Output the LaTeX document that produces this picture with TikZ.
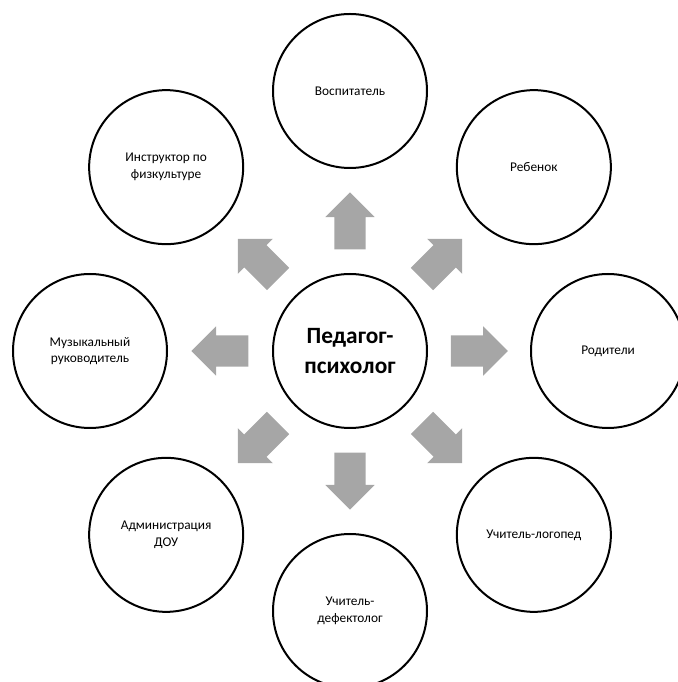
\documentclass[tikz,border=0pt]{standalone}
\usepackage{fontspec}
\setmainfont{Carlito}
\usetikzlibrary{calc, shapes.arrows}
\definecolor{arrowgray}{HTML}{A6A6A6}

\begin{document}
\begin{tikzpicture}[x=0.75pt, y=0.75pt,
    person/.style={circle, draw, line width=1.5pt, minimum size=115.5pt, inner sep=0pt,
        align=center, font=\fontsize{10}{12.5}\selectfont},
    grayarrow/.style={single arrow, fill=arrowgray, draw=none, inner xsep=0pt, inner ysep=11.6pt,
        minimum height=42.75pt, single arrow head extend=6.75pt, anchor=tail}]
    \useasboundingbox (0,0) rectangle (678,682);
    \node[person, font=\fontsize{17.5}{22}\selectfont\bfseries] (psy) at (350,331) {Педагог-\\психолог};
    \node[person] (vosp) at ($(psy)+(90:260)$) {Воспитатель};
    \node[person] (reb) at ($(psy)+(45:260)$) {Ребенок};
    \node[person] (rod) at ($(psy)+(0:258)$) {Родители};
    \node[person] (logo) at ($(psy)+(-45:260)$) {Учитель-логопед};
    \node[person] (defe) at ($(psy)+(-90:260)$) {Учитель-\\дефектолог};
    \node[person] (adm) at ($(psy)+(-135:260)$) {Администрация\\ДОУ};
    \node[person] (muz) at ($(psy)+(180:260)$) {Музыкальный\\руководитель};
    \node[person] (instr) at ($(psy)+(135:260)$) {Инструктор по\\физкультуре};
    \foreach \n/\a in {vosp/90, reb/45, rod/0, logo/-45, defe/-90, adm/-135, muz/180, instr/135}
        \node[grayarrow, rotate=\a] (arr-\n) at ($(psy)!0.39!(\n)$) {};
\end{tikzpicture}
\end{document}
